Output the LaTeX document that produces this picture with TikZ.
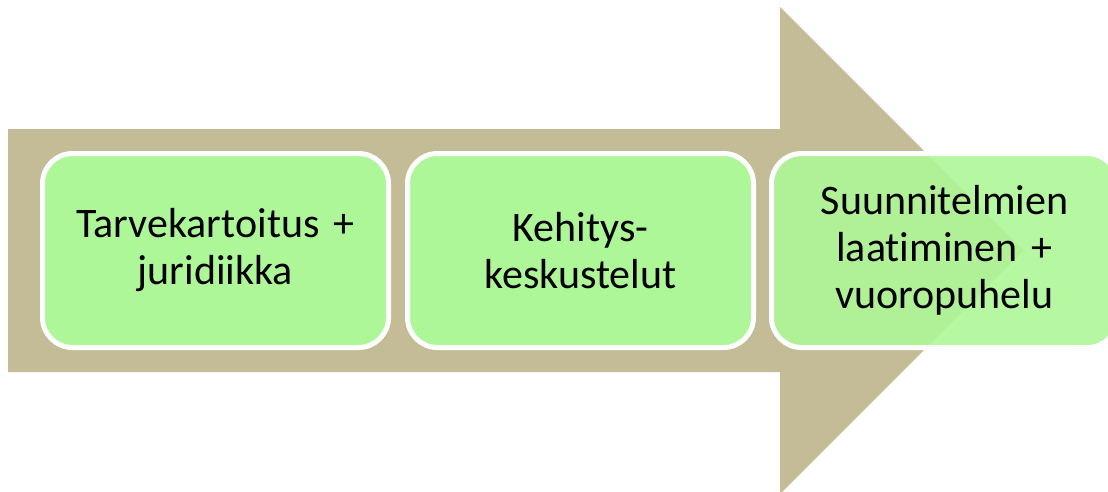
\documentclass[tikz,border=0pt]{standalone}
\usepackage{fontspec}
\setmainfont{Carlito}[Ligatures=NoCommon]
\definecolor{arrowtan}{RGB}{196,188,150}
\definecolor{boxgreen}{RGB}{174,247,152}
\tikzset{
  stagebox/.style={draw=white, line width=5pt, fill=boxgreen, rounded corners=30pt,
    minimum width=346pt, minimum height=194pt, text width=330pt, align=center,
    font=\fontsize{42pt}{47pt}\selectfont, inner sep=0pt}
}
\begin{document}
\begin{tikzpicture}[x=1pt,y=-1pt]
\useasboundingbox (0,0) rectangle (1108,491);
\clip (0,0) rectangle (1108,491);
\fill[arrowtan] (8,129) -- (780,129) -- (780,7) -- (1023.5,250.5) -- (780,494) -- (780,372) -- (8,372) -- cycle;
\node[stagebox] (b1) at (215.5,250.5) {Tarvekartoitus +\\juridiikka};
\node[stagebox] (b2) at (580.5,250.5) {Kehitys-\\keskustelut};
\node[stagebox, fill opacity=0.9, text opacity=1] (b3) at (944.5,250.5) {Suunnitelmien\\laatiminen +\\vuoropuhelu};
\end{tikzpicture}
\end{document}
